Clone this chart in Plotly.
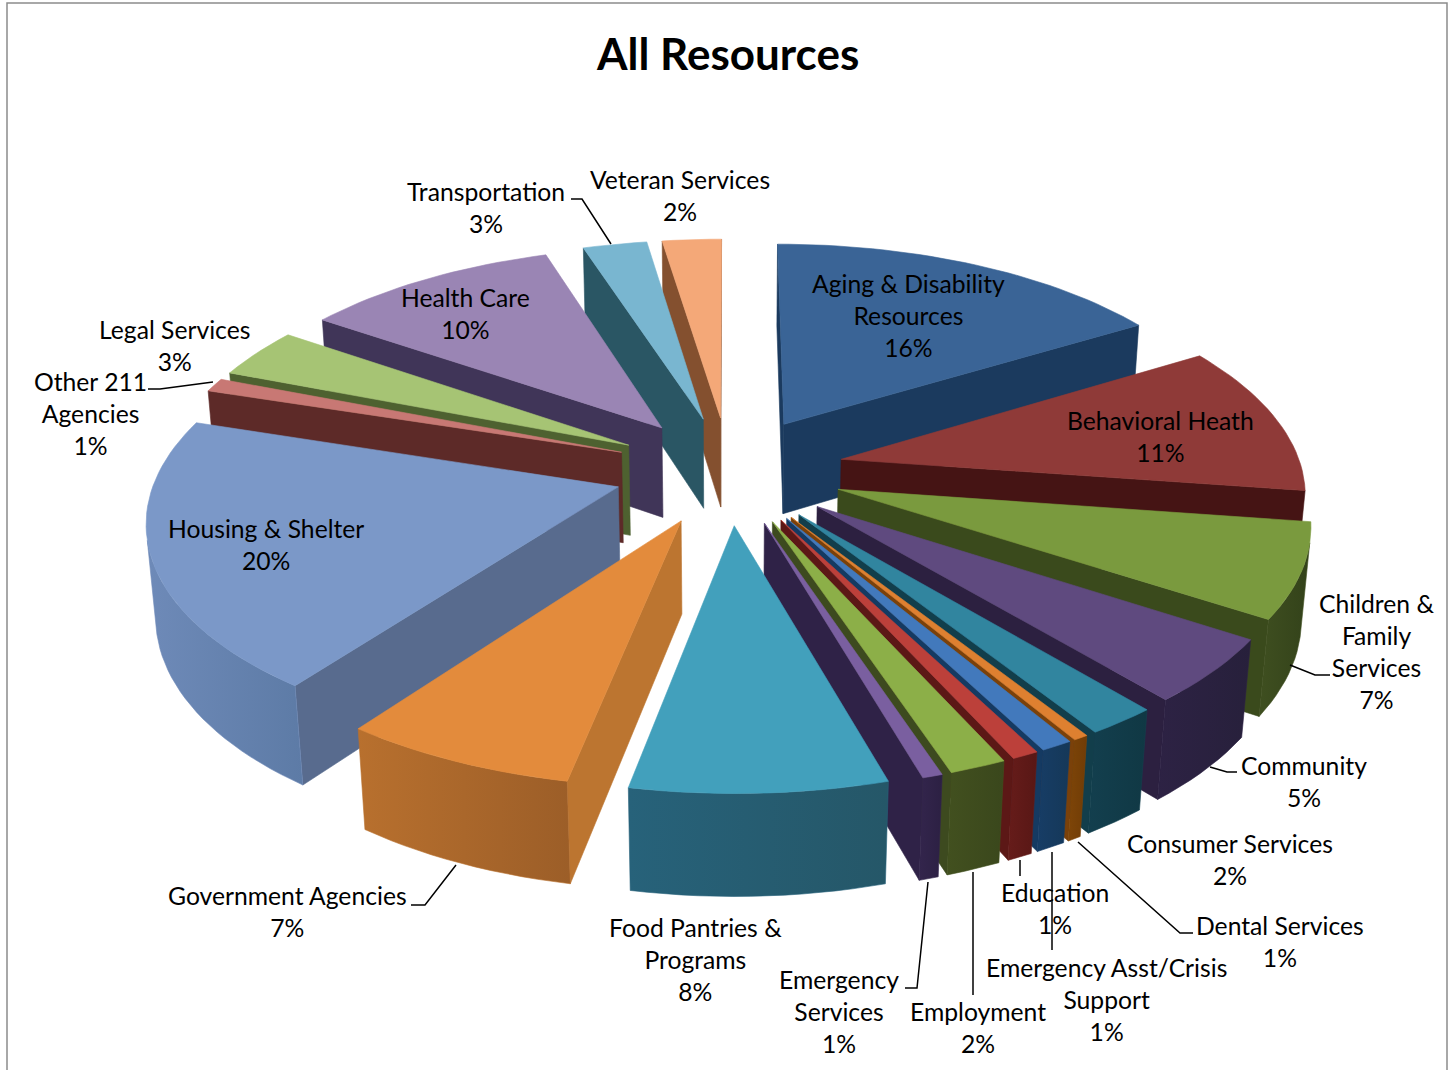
import math
import plotly.graph_objects as go

categories = ["Aging & Disability Resources", "Behavioral Heath", "Children & Family Services", "Community",
              "Consumer Services", "Dental Services", "Emergency Asst/Crisis Support", "Education", "Employment",
              "Emergency Services", "Food Pantries & Programs", "Government Agencies", "Housing & Shelter",
              "Other 211 Agencies", "Legal Services", "Health Care", "Transportation", "Veteran Services"]
values = [16.3, 11.0, 6.9, 4.7, 2.1, 0.45, 0.95, 0.8, 1.7, 0.6, 7.6, 7.0, 19.8, 1.0, 3.7, 10.4, 2.6, 2.4]
label_text = ["Aging & Disability<br>Resources<br>16%", "Behavioral Heath<br>11%", "Children &<br>Family<br>Services<br>7%",
              "Community<br>5%", "Consumer Services<br>2%", "Dental Services<br>1%",
              "Emergency Asst/Crisis<br>Support<br>1%", "Education<br>1%", "Employment<br>2%",
              "Emergency<br>Services<br>1%", "Food Pantries &<br>Programs<br>8%", "Government Agencies<br>7%",
              "Housing & Shelter<br>20%", "Other 211<br>Agencies<br>1%", "Legal Services<br>3%", "Health Care<br>10%",
              "Transportation<br>3%", "Veteran Services<br>2%"]
label_x = [908, 1160, 1376, 1304, 1230, 1280, 1106, 1055, 978, 839, 695, 287, 266, 90, 174, 465, 486, 680]
label_y = [315, 436, 651, 781, 859, 941, 999, 908, 1027, 1011, 959, 911, 544, 413, 345, 313, 207, 195]
top_colors = ["#3A6496", "#8F3A38", "#7A9A3E", "#5F4A7F", "#31859F", "#DE8030", "#4279BC", "#BC403A", "#8CAF48",
              "#7A5FA0", "#42A0BC", "#E38B3C", "#7B98C8", "#C87874", "#A6C474", "#9A85B4", "#79B6D0", "#F4A878"]
side_colors = ["#1B3A5E", "#451414", "#3A4A1C", "#2C2040", "#123E4B", "#7A410A", "#153A62", "#5C1816", "#3D4A1F",
               "#2F2247", "#1F5567", "#BC7530", "#586B8E", "#5D2A28", "#4E6130", "#403558", "#2A5664", "#84502F"]
wall_colors = ["#1D3F66", "#4F1817", "#3F4F20", "#2D2244", "#133F4E", "#7E4508", "#173D66", "#661C1A", "#42501F",
               "#33254C", "#27627A", "#B8702E", "#6E8AB8", "#5D2A28", "#4E6130", "#403558", "#2A5664", "#84502F"]
wall_dark = ["#1D3F66", "#4F1817", "#33421A", "#27203B", "#103844", "#703C06", "#153858", "#581715", "#3A471C",
             "#2C2043", "#255768", "#9C5E28", "#5D7BA6", "#5D2A28", "#4E6130", "#403558", "#2A5664", "#84502F"]

R, E, H = 0.80, 0.20, 0.182
K, D, TILT, CX, CY = 576.0, 5.29, math.radians(27.9), 729.0, 470.0
S, C = math.sin(TILT), math.cos(TILT)


def project(x, y, z):
    p = D / (D + y * C - z * S)
    return CX + K * x * p, CY - K * p * (y * S + z * C)


def polygon(points, color, dark=None):
    pts = [project(*q) for q in points]
    xs = [q[0] for q in pts] + [pts[0][0]]
    ys = [q[1] for q in pts] + [pts[0][1]]
    kw = {"fillcolor": color}
    if dark and dark != color:
        kw = {"fillgradient": dict(type="horizontal", colorscale=[[0, color], [1, dark]])}
    return go.Scatter(x=xs, y=ys, mode="lines", fill="toself", line=dict(color=color, width=0.6),
                      hoverinfo="skip", showlegend=False, **kw)


total = sum(values)
fig = go.Figure()
cam_y = -D * C
cum = 0.0
geom = []
for i, v in enumerate(values):
    a0, a1 = 2 * math.pi * cum / total, 2 * math.pi * (cum + v) / total
    geom.append((i, a0, a1, (E + R * 0.6) * math.cos((a0 + a1) / 2)))
    cum += v

for i, a0, a1, _ in sorted(geom, key=lambda g: -g[3]):
    mid = (a0 + a1) / 2
    ax, ay = E * math.sin(mid), E * math.cos(mid)
    n = max(2, int((a1 - a0) / 0.03))
    arc = [a0 + (a1 - a0) * k / n for k in range(n + 1)]
    outer = [(ax + R * math.sin(t), ay + R * math.cos(t)) for t in arc]
    p0, p1 = outer[0], outer[-1]
    if (-math.cos(a0)) * (0 - ax) + math.sin(a0) * (cam_y - ay) > 0:
        fig.add_trace(polygon([(ax, ay, 0), (*p0, 0), (*p0, -H), (ax, ay, -H)], side_colors[i]))
    if math.cos(a1) * (0 - ax) - math.sin(a1) * (cam_y - ay) > 0:
        fig.add_trace(polygon([(ax, ay, 0), (*p1, 0), (*p1, -H), (ax, ay, -H)], side_colors[i]))
    vis = [q for q, t in zip(outer, arc)
           if math.sin(t) * (0 - q[0]) + math.cos(t) * (cam_y - q[1]) > 0]
    if len(vis) > 1:
        fig.add_trace(polygon([(*q, 0) for q in vis] + [(*q, -H) for q in reversed(vis)],
                              wall_colors[i], wall_dark[i]))
    fig.add_trace(polygon([(ax, ay, 0)] + [(*q, 0) for q in outer], top_colors[i]))

FONT = "Lato"
annotations = [dict(x=727, y=53, text="<b>All Resources</b>", showarrow=False,
                    font=dict(family=FONT, size=44, color="black"))]
for t, x, y in zip(label_text, label_x, label_y):
    annotations.append(dict(x=x, y=y, text=t, showarrow=False, align="center",
                            font=dict(family=FONT, size=24.7, color="black")))

leaders = [[(571, 199), (582, 199), (611, 244)], [(148, 389), (160, 389), (213, 382)],
           [(1330, 675), (1315, 675), (1290, 665)], [(1237, 772), (1227, 772), (1210, 767)],
           [(411, 905), (425, 905), (456, 865)], [(905, 988), (917, 988), (928, 882)],
           [(973, 872), (973, 995)], [(1020, 860), (1020, 876)], [(1052, 852), (1052, 950)],
           [(1078, 842), (1180, 933), (1193, 933)]]
shapes = [dict(type="rect", x0=7, y0=3, x1=1447, y1=1080, line=dict(color="#8C8C8C", width=1.5), layer="below")]
for pts in leaders:
    path = "M " + " L ".join(f"{x},{y}" for x, y in pts)
    shapes.append(dict(type="path", path=path, line=dict(color="black", width=1.5)))

fig.update_layout(width=1454, height=1070, margin=dict(l=0, r=0, t=0, b=0), paper_bgcolor="white",
                  plot_bgcolor="white", showlegend=False, annotations=annotations, shapes=shapes,
                  xaxis=dict(range=[0, 1454], visible=False, fixedrange=True),
                  yaxis=dict(range=[1070, 0], visible=False, fixedrange=True))
fig.write_html("out.html", config=dict(displayModeBar=False),
               post_script="document.body.style.margin='0';document.body.style.overflow='hidden';")
